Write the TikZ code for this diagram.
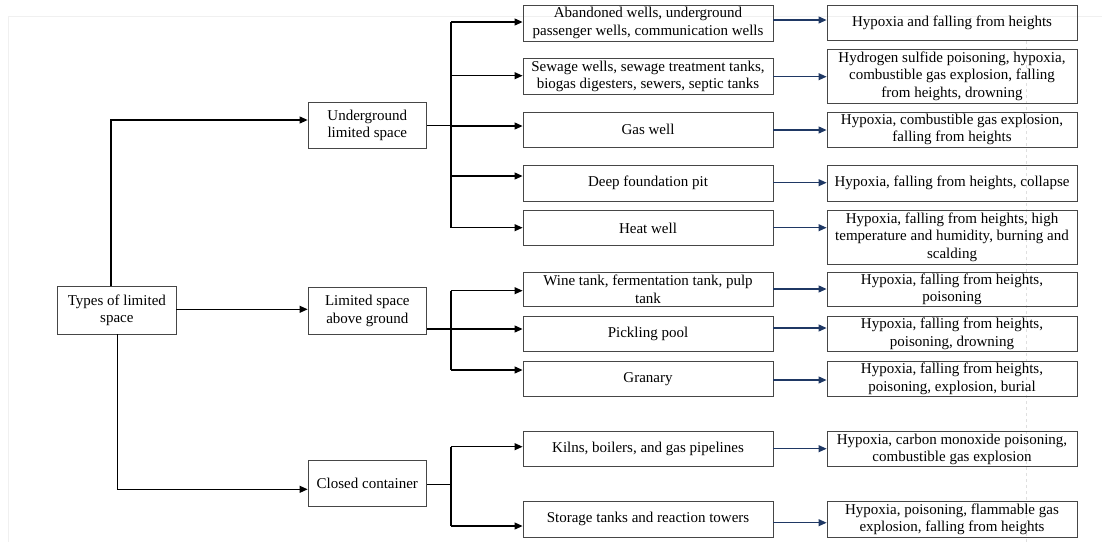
\documentclass[tikz,border=0pt]{standalone}
\usepackage{fontspec}
\setmainfont{Liberation Serif}
\usetikzlibrary{arrows.meta}
\definecolor{navyline}{RGB}{31,56,100}
\definecolor{boxgray}{RGB}{70,70,70}
\begin{document}
\begin{tikzpicture}[x=1pt,y=-1pt,
  box/.style={draw=boxgray,line width=0.9pt,align=center,inner sep=0pt,
    font=\fontsize{15}{17.5}\selectfont},
  lvl/.style={box,minimum width=118.5pt,minimum height=46.5pt},
  leaf/.style={box,minimum width=250pt},
  conn/.style={line width=1.1pt,-{Triangle[length=8pt,width=7pt]}},
  plain/.style={line width=1.1pt},
  risk/.style={draw=navyline,line width=1.1pt,-{Triangle[length=8pt,width=7pt]}}]
\useasboundingbox (0,0) rectangle (1102,542);
% faint frame
\draw[gray!12,line width=0.8pt] (8,542) -- (8,16.5) -- (1102,16.5);
\draw[gray!25,dashed,line width=0.6pt] (1026,41) -- (1026,542);

% nodes
\node[box,minimum width=118.3pt,minimum height=47.3pt] (root) at (116.85,310.3) {Types of limited\\space};
\node[lvl] (ug) at (367.3,125.5) {Underground\\limited space};
\node[lvl] (ag) at (367.3,310.7) {Limited space\\above ground};
\node[lvl] (cc) at (367.3,483.3) {Closed container};

\node[leaf,minimum height=36pt]   (c1) at (648,23)    {Abandoned wells, underground\\passenger wells, communication wells};
\node[leaf,minimum height=35.6pt] (c2) at (648,76.5)  {Sewage wells, sewage treatment tanks,\\biogas digesters, sewers, septic tanks};
\node[leaf,minimum height=35pt]   (c3) at (648,129.5) {Gas well};
\node[leaf,minimum height=35.7pt] (c4) at (648,183.2) {Deep foundation pit};
\node[leaf,minimum height=35.7pt] (c5) at (648,227.9) {Heat well};
\node[leaf,minimum height=34.4pt] (c6) at (648,289.5) {Wine tank, fermentation tank, pulp\\tank};
\node[leaf,minimum height=35.7pt] (c7) at (648,333.9) {Pickling pool};
\node[leaf,minimum height=35.7pt] (c8) at (648,378.9) {Granary};
\node[leaf,minimum height=35pt]   (c9) at (648,449.2) {Kilns, boilers, and gas pipelines};
\node[leaf,minimum height=35.7pt] (c10) at (648,519.2) {Storage tanks and reaction towers};

\node[leaf,minimum height=35.7pt] (r1) at (952,22.9)  {Hypoxia and falling from heights};
\node[leaf,minimum height=54pt]   (r2) at (952,76.3)  {Hydrogen sulfide poisoning, hypoxia,\\combustible gas explosion, falling\\from heights, drowning};
\node[leaf,minimum height=35pt]   (r3) at (952,129.5) {Hypoxia, combustible gas explosion,\\falling from heights};
\node[leaf,minimum height=35.7pt] (r4) at (952,183.2) {Hypoxia, falling from heights, collapse};
\node[leaf,minimum height=54pt]   (r5) at (952,237)   {Hypoxia, falling from heights, high\\temperature and humidity, burning and\\scalding};
\node[leaf,minimum height=34.4pt] (r6) at (952,289.5) {Hypoxia, falling from heights,\\poisoning};
\node[leaf,minimum height=35.7pt] (r7) at (952,333.9) {Hypoxia, falling from heights,\\poisoning, drowning};
\node[leaf,minimum height=35.7pt] (r8) at (952,378.9) {Hypoxia, falling from heights,\\poisoning, explosion, burial};
\node[leaf,minimum height=35pt]   (r9) at (952,449.2) {Hypoxia, carbon monoxide poisoning,\\combustible gas explosion};
\node[leaf,minimum height=35.7pt] (r10) at (952,519.2) {Hypoxia, poisoning, flammable gas\\explosion, falling from heights};

% root connectors
\draw[conn] ([xshift=-5.85pt]root.north) |- (ug.west |- 0,120);
\draw[conn] (root.east |- 0,309.3) -- (ag.west |- 0,309.3);
\draw[conn] ([xshift=0.45pt]root.south) |- (cc.west |- 0,489.3);

% branch 1
\coordinate (b1) at (451,125.5);
\draw[plain] (ug.east) -- (b1);
\draw[plain] (b1 |- 0,22) -- (b1 |- 0,227.7);
\draw[conn] (b1 |- 0,22) -- (c1.west |- 0,22);
\draw[conn] (b1 |- 0,75.7) -- (c2.west |- 0,75.7);
\draw[conn] (b1 |- 0,126) -- (c3.west |- 0,126);
\draw[conn] (b1 |- 0,176) -- (c4.west |- 0,176);
\draw[conn] (b1 |- 0,227.7) -- (c5.west |- 0,227.7);

% branch 2
\coordinate (b2) at (451,329);
\draw[plain] (ag.east |- b2) -- (b2);
\draw[plain] (b2 |- 0,290.7) -- (b2 |- 0,370);
\draw[conn] (b2 |- 0,290.7) -- (c6.west |- 0,290.7);
\draw[conn] (b2) -- (c7.west |- b2);
\draw[conn] (b2 |- 0,370) -- (c8.west |- 0,370);

% branch 3
\coordinate (b3) at (451,484.7);
\draw[plain] (cc.east |- b3) -- (b3);
\draw[plain] (b3 |- 0,446.7) -- (b3 |- 0,526);
\draw[conn] (b3 |- 0,446.7) -- (c9.west |- 0,446.7);
\draw[conn] (b3 |- 0,526) -- (c10.west |- 0,526);

% risk arrows
\draw[risk] (c1.east |- 0,20) -- (r1.west |- 0,20);
\draw[risk] (c2.east |- 0,76.7) -- (r2.west |- 0,76.7);
\draw[risk] (c3.east |- 0,130) -- (r3.west |- 0,130);
\draw[risk] (c4.east |- 0,182.7) -- (r4.west |- 0,182.7);
\draw[risk] (c5.east |- 0,227.7) -- (r5.west |- 0,227.7);
\draw[risk] (c6.east |- 0,289) -- (r6.west |- 0,289);
\draw[risk] (c7.east |- 0,328) -- (r7.west |- 0,328);
\draw[risk] (c8.east |- 0,380) -- (r8.west |- 0,380);
\draw[risk] (c9.east |- 0,448.7) -- (r9.west |- 0,448.7);
\draw[risk] (c10.east |- 0,522.7) -- (r10.west |- 0,522.7);
\end{tikzpicture}
\end{document}
